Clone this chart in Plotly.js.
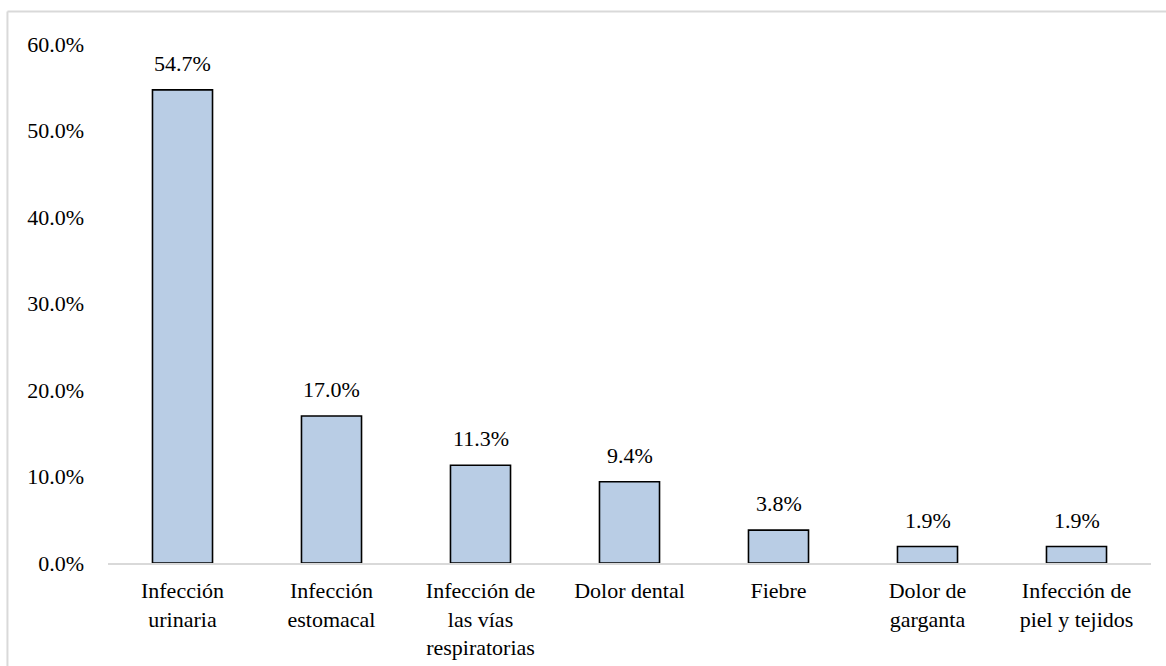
<!DOCTYPE html>
<html>
<head>
<meta charset="utf-8">
<script src="https://cdn.plot.ly/plotly-3.0.1.min.js"></script>
<style>
html,body{margin:0;padding:0;background:#fff;}
#chart{width:1166px;height:666px;}
</style>
</head>
<body>
<div id="chart"></div>
<script>
const categories = [
  "Infección<br>urinaria",
  "Infección<br>estomacal",
  "Infección de<br>las vías<br>respiratorias",
  "Dolor dental",
  "Fiebre",
  "Dolor de<br>garganta",
  "Infección de<br>piel y tejidos"
];
const values = [54.7, 17.0, 11.3, 9.4, 3.8, 1.9, 1.9];
const valueLabels = ["54.7%", "17.0%", "11.3%", "9.4%", "3.8%", "1.9%", "1.9%"];

const FONT = "Liberation Serif";
const FS = 22;

const trace = {
  type: "bar",
  x: categories,
  y: values,
  marker: { color: "#b9cde5", line: { color: "#000000", width: 1.6 } },
  hoverinfo: "skip"
};

const annotations = categories.map((c, i) => ({
  x: c, y: values[i], xref: "x", yref: "y",
  text: valueLabels[i], showarrow: false,
  yanchor: "bottom", yshift: 12,
  font: { family: FONT, size: FS, color: "#000" }
}));

const layout = {
  width: 1166, height: 666,
  margin: { l: 108, r: 15, t: 44, b: 103 },
  paper_bgcolor: "#fff", plot_bgcolor: "#fff",
  showlegend: false,
  bargap: 0.597,
  font: { family: FONT, size: FS, color: "#000" },
  xaxis: {
    type: "category",
    showgrid: false, zeroline: false,
    showline: true, linecolor: "#d9d9d9", linewidth: 1.5,
    ticks: "", ticklabelstandoff: 7,
    tickfont: { family: FONT, size: FS, color: "#000" },
    fixedrange: true
  },
  yaxis: {
    range: [0, 60], dtick: 10, tick0: 0,
    tickformat: ".1f", ticksuffix: "%",
    showgrid: false, zeroline: false, showline: false,
    ticks: "", ticklabelstandoff: 23,
    tickfont: { family: FONT, size: FS, color: "#000" },
    fixedrange: true
  },
  annotations: annotations,
  shapes: [
    { type: "line", xref: "paper", yref: "paper",
      x0: -0.0964, x1: -0.0964, y0: -0.3, y1: 1.0626,
      line: { color: "#d9d9d9", width: 2 } },
    { type: "line", xref: "paper", yref: "paper",
      x0: -0.0964, x1: 1.1, y0: 1.0626, y1: 1.0626,
      line: { color: "#d9d9d9", width: 2 } }
  ]
};

Plotly.newPlot("chart", [trace], layout, { displayModeBar: false, staticPlot: true });
</script>
</body>
</html>
